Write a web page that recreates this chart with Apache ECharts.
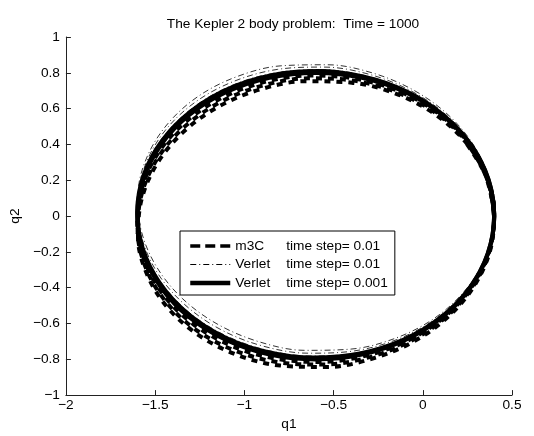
<!DOCTYPE html>
<html>
<head>
<meta charset="utf-8">
<script src="https://cdn.jsdelivr.net/npm/echarts@6/dist/echarts.min.js"></script>
<style>
  html, body { margin: 0; padding: 0; background: #fff; }
  #chart { width: 534px; height: 436px; }
</style>
</head>
<body>
<div id="chart"></div>
<script>
// Axis ticks and labels
const xTickValues = [-2, -1.5, -1, -0.5, 0, 0.5];
const xTickLabels = ['\u22122', '\u22121.5', '\u22121', '\u22120.5', '0', '0.5'];
const yTickValues = [-1, -0.8, -0.6, -0.4, -0.2, 0, 0.2, 0.4, 0.6, 0.8, 1];
const yTickLabels = ['\u22121', '\u22120.8', '\u22120.6', '\u22120.4', '\u22120.2', '0', '0.2', '0.4', '0.6', '0.8', '1'];

// Legend entries
const seriesNames = ['m3C', 'Verlet dt=0.01', 'Verlet dt=0.001'];
const methodLabels = ['m3C', 'Verlet', 'Verlet'];
const stepLabels = ['0.01', '0.01', '0.001'];

// Orbit samples (q1, q2), one array per revolution; the orbit precesses slowly
const m3cPass1 = [[0.400,0.010],[0.361,0.216],[0.256,0.407],[0.093,0.569],[-0.117,0.690],[-0.360,0.764],[-0.620,0.785],[-0.878,0.751],[-1.117,0.665],[-1.321,0.533],[-1.476,0.363],[-1.571,0.168],[-1.600,-0.040],[-1.560,-0.246],[-1.456,-0.437],[-1.292,-0.599],[-1.082,-0.720],[-0.839,-0.794],[-0.580,-0.815],[-0.322,-0.781],[-0.083,-0.695],[0.121,-0.563],[0.276,-0.393],[0.371,-0.198]];
const m3cPass2 = [[0.400,0.020],[0.355,0.225],[0.246,0.413],[0.079,0.571],[-0.135,0.687],[-0.379,0.755],[-0.639,0.769],[-0.897,0.729],[-1.133,0.637],[-1.334,0.500],[-1.484,0.326],[-1.574,0.128],[-1.598,-0.080],[-1.554,-0.285],[-1.444,-0.473],[-1.277,-0.631],[-1.064,-0.747],[-0.819,-0.815],[-0.559,-0.829],[-0.302,-0.789],[-0.065,-0.697],[0.135,-0.560],[0.286,-0.386],[0.376,-0.188]];
const m3cPass3 = [[0.399,0.030],[0.349,0.234],[0.235,0.419],[0.064,0.572],[-0.152,0.684],[-0.398,0.745],[-0.658,0.753],[-0.915,0.706],[-1.149,0.609],[-1.346,0.466],[-1.492,0.289],[-1.577,0.089],[-1.596,-0.120],[-1.546,-0.324],[-1.432,-0.509],[-1.261,-0.662],[-1.045,-0.774],[-0.799,-0.835],[-0.538,-0.843],[-0.282,-0.796],[-0.048,-0.699],[0.149,-0.556],[0.295,-0.379],[0.381,-0.179]];

const verletCoarsePass1 = [[0.400,-0.012],[0.372,0.196],[0.278,0.392],[0.124,0.562],[-0.079,0.696],[-0.318,0.783],[-0.576,0.818],[-0.835,0.798],[-1.079,0.726],[-1.289,0.605],[-1.453,0.444],[-1.559,0.254],[-1.599,0.048],[-1.572,-0.160],[-1.477,-0.356],[-1.323,-0.527],[-1.120,-0.660],[-0.882,-0.747],[-0.624,-0.782],[-0.364,-0.763],[-0.121,-0.690],[0.090,-0.569],[0.254,-0.408],[0.360,-0.218]];
const verletCoarsePass2 = [[0.399,-0.022],[0.377,0.187],[0.288,0.385],[0.138,0.559],[-0.062,0.697],[-0.298,0.791],[-0.555,0.832],[-0.815,0.819],[-1.060,0.752],[-1.274,0.637],[-1.442,0.480],[-1.552,0.293],[-1.598,0.088],[-1.575,-0.121],[-1.486,-0.319],[-1.336,-0.493],[-1.136,-0.632],[-0.900,-0.725],[-0.643,-0.766],[-0.383,-0.753],[-0.138,-0.687],[0.076,-0.571],[0.244,-0.414],[0.354,-0.227]];
const verletCoarsePass3 = [[0.399,-0.032],[0.381,0.177],[0.297,0.377],[0.152,0.556],[-0.044,0.699],[-0.278,0.798],[-0.534,0.845],[-0.795,0.839],[-1.041,0.779],[-1.258,0.669],[-1.429,0.516],[-1.545,0.331],[-1.595,0.128],[-1.578,-0.081],[-1.493,-0.282],[-1.348,-0.460],[-1.152,-0.603],[-0.918,-0.702],[-0.662,-0.750],[-0.402,-0.743],[-0.155,-0.683],[0.062,-0.573],[0.233,-0.420],[0.348,-0.236]];

const verletFinePass1 = [[0.400,0.000],[0.366,0.207],[0.266,0.400],[0.107,0.566],[-0.100,0.693],[-0.341,0.773],[-0.600,0.800],[-0.859,0.773],[-1.100,0.693],[-1.307,0.566],[-1.466,0.400],[-1.566,0.207],[-1.600,0.000],[-1.566,-0.207],[-1.466,-0.400],[-1.307,-0.566],[-1.100,-0.693],[-0.859,-0.773],[-0.600,-0.800],[-0.341,-0.773],[-0.100,-0.693],[0.107,-0.566],[0.266,-0.400],[0.366,-0.207]];
const verletFinePass2 = [[0.400,-0.006],[0.369,0.202],[0.272,0.396],[0.115,0.564],[-0.090,0.695],[-0.329,0.778],[-0.588,0.809],[-0.847,0.786],[-1.090,0.710],[-1.298,0.586],[-1.460,0.422],[-1.563,0.231],[-1.600,0.024],[-1.569,-0.184],[-1.472,-0.378],[-1.316,-0.546],[-1.110,-0.677],[-0.871,-0.760],[-0.612,-0.791],[-0.353,-0.768],[-0.110,-0.692],[0.099,-0.568],[0.260,-0.404],[0.363,-0.213]];

const FONT = '"Liberation Sans", Arial, Helvetica, sans-serif';
const FS = 13.7;

// Close each revolution by repeating its first points so the smoothed curve joins cleanly
function closed(pass) {
  return pass.concat(pass.slice(0, 3));
}

function labelFor(values, labels, v) {
  let best = 0;
  for (let i = 1; i < values.length; i++) {
    if (Math.abs(values[i] - v) < Math.abs(values[best] - v)) best = i;
  }
  return labels[best];
}

// Line styles on the plot and in the legend key
const styles = [
  { width: 4, type: [6, 6], cap: 'butt' },
  { width: 0.8, type: [6, 3, 1, 3], cap: 'butt' },
  { width: 4.2, type: 'solid', cap: 'round' }
];
const keyStyles = [
  { width: 3.5, type: [10, 5] },
  { width: 1, type: [6, 3, 1, 3] },
  { width: 4.5, type: 'solid' }
];

const passes = [
  [m3cPass1, m3cPass2, m3cPass3],
  [verletCoarsePass1, verletCoarsePass2, verletCoarsePass3],
  [verletFinePass1, verletFinePass2]
];

const series = [];
passes.forEach((group, gi) => {
  group.forEach(pass => {
    series.push({
      name: seriesNames[gi],
      type: 'line',
      data: closed(pass),
      smooth: 0.34,
      symbol: 'none',
      silent: true,
      animation: false,
      itemStyle: { color: '#000' },
      lineStyle: {
        color: '#000',
        width: styles[gi].width,
        type: styles[gi].type,
        cap: styles[gi].cap,
        join: 'round'
      }
    });
  });
});

const chart = echarts.init(document.getElementById('chart'), null, { renderer: 'canvas' });
chart.setOption({
  animation: false,
  backgroundColor: '#fff',
  textStyle: { fontFamily: FONT, color: '#000' },
  title: {
    text: 'The Kepler 2 body problem:  Time = 1000',
    left: 288,
    top: 12,
    textAlign: 'center',
    textStyle: { fontFamily: FONT, fontSize: FS, fontWeight: 'normal', color: '#000' }
  },
  grid: { left: 62, right: 22, top: 37, bottom: 37, containLabel: false },
  xAxis: {
    type: 'value',
    min: -2, max: 0.5, interval: 0.5,
    name: 'q1', nameLocation: 'middle', nameGap: 21,
    nameTextStyle: { fontFamily: FONT, fontSize: FS, color: '#000' },
    axisLine: { onZero: false, lineStyle: { color: '#222', width: 1 } },
    axisTick: { inside: true, length: 5, lineStyle: { color: '#222' } },
    axisLabel: {
      margin: 3, fontFamily: FONT, fontSize: FS, color: '#000',
      formatter: v => labelFor(xTickValues, xTickLabels, v)
    },
    splitLine: { show: false }
  },
  yAxis: {
    type: 'value',
    min: -1, max: 1, interval: 0.2,
    name: 'q2', nameLocation: 'middle', nameGap: 42,
    nameTextStyle: { fontFamily: FONT, fontSize: FS, color: '#000' },
    axisLine: { onZero: false, lineStyle: { color: '#222', width: 1 } },
    axisTick: { inside: true, length: 5, lineStyle: { color: '#222' } },
    axisLabel: {
      margin: 6, fontFamily: FONT, fontSize: FS, color: '#000',
      formatter: v => labelFor(yTickValues, yTickLabels, v)
    },
    splitLine: { show: false }
  },
  legend: {
    data: seriesNames.map((name, i) => ({
      name: name,
      itemStyle: { opacity: 0 },
      lineStyle: { color: '#000', width: keyStyles[i].width, type: keyStyles[i].type, cap: 'butt' }
    })),
    orient: 'vertical',
    left: 180, top: 231,
    padding: [8, 7, 5, 8],
    itemGap: 4.5,
    itemWidth: 40,
    itemHeight: 14,
    borderColor: '#000',
    borderWidth: 1,
    backgroundColor: '#fff',
    selectedMode: false,
    itemStyle: { opacity: 0 },
    formatter: name => {
      const i = seriesNames.indexOf(name);
      return '{a|' + methodLabels[i] + '}{b|time step= ' + stepLabels[i] + '}';
    },
    textStyle: {
      fontFamily: FONT, fontSize: FS, color: '#000',
      rich: {
        a: { width: 51, fontFamily: FONT, fontSize: FS, color: '#000' },
        b: { fontFamily: FONT, fontSize: FS, color: '#000' }
      }
    }
  },
  series: series
});
</script>
</body>
</html>
